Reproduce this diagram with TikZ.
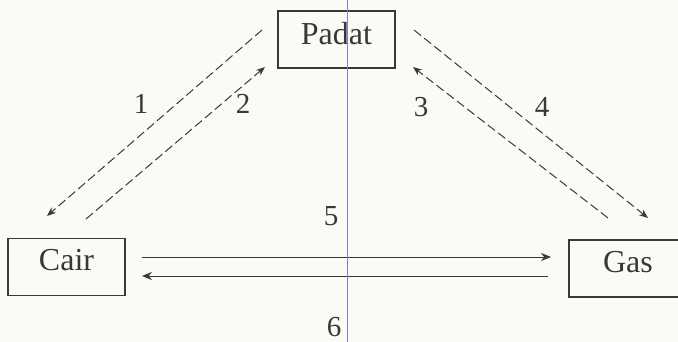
\documentclass[tikz,border=0pt]{standalone}
\usepackage{fontspec}
\setmainfont{Liberation Serif}
\usetikzlibrary{arrows.meta}
\definecolor{ink}{HTML}{383838}
\definecolor{paper}{HTML}{FBFBF6}
\definecolor{scanline}{HTML}{9478C8}
\tikzset{
  statebox/.style={draw=ink, line width=1.1pt, inner sep=0pt, text=ink,
    font=\fontsize{32}{38}\selectfont, minimum height=57pt},
  numlabel/.style={text=ink, font=\fontsize{29}{34}\selectfont, inner sep=0pt},
  dashlink/.style={draw=ink, line width=1pt, dash pattern=on 9pt off 4pt,
    -{Stealth[length=9pt,width=7pt]}},
  solidlink/.style={draw=ink, line width=1pt, -{Stealth[length=10pt,width=8pt]}}
}
\begin{document}
\begin{tikzpicture}[x=1pt,y=-1pt]
\useasboundingbox (0,0) rectangle (678,342);
\clip (0,0) rectangle (678,342);
\fill[paper] (0,0) rectangle (678,342);
% boxes
\node[statebox, minimum width=117pt, text depth=12pt] (padat) at (336.5,39.5) {Padat};
\node[statebox, minimum width=117pt, text depth=14pt] (cair) at (66.5,267) {Cair};
\node[statebox, minimum width=125pt, text depth=13pt, text width=103pt, align=left] (gas) at (631.5,268.5) {\hspace{23pt}Gas};
% endpoints of the dashed links
\coordinate (l1s) at (262,30);
\coordinate (l1e) at (47,216);
\coordinate (l2s) at (86,219);
\coordinate (l2e) at (265,67);
\coordinate (l3s) at (608,218);
\coordinate (l3e) at (413,67);
\coordinate (l4s) at (414,30);
\coordinate (l4e) at (648,218);
\draw[dashlink] (l1s) -- (l1e);
\draw[dashlink] (l2s) -- (l2e);
\draw[dashlink] (l3s) -- (l3e);
\draw[dashlink] (l4s) -- (l4e);
% horizontal links
\coordinate (h5s) at (142,257);
\coordinate (h5e) at (551,257);
\coordinate (h6s) at (548,276);
\coordinate (h6e) at (142,276);
\draw[solidlink] (h5s) -- (h5e);
\draw[solidlink] (h6s) -- (h6e);
% labels
\node[numlabel] (n1) at (141,104) {1};
\node[numlabel] (n2) at (243,104) {2};
\node[numlabel] (n3) at (421,107) {3};
\node[numlabel] (n4) at (542,107) {4};
\node[numlabel] (n5) at (331,216) {5};
\node[numlabel] (n6) at (334,327) {6};
% scan line
\coordinate (st) at (347,0);
\coordinate (sb) at (347,342);
\draw[scanline, line width=1pt] (st) -- (sb);
\end{tikzpicture}
\end{document}
